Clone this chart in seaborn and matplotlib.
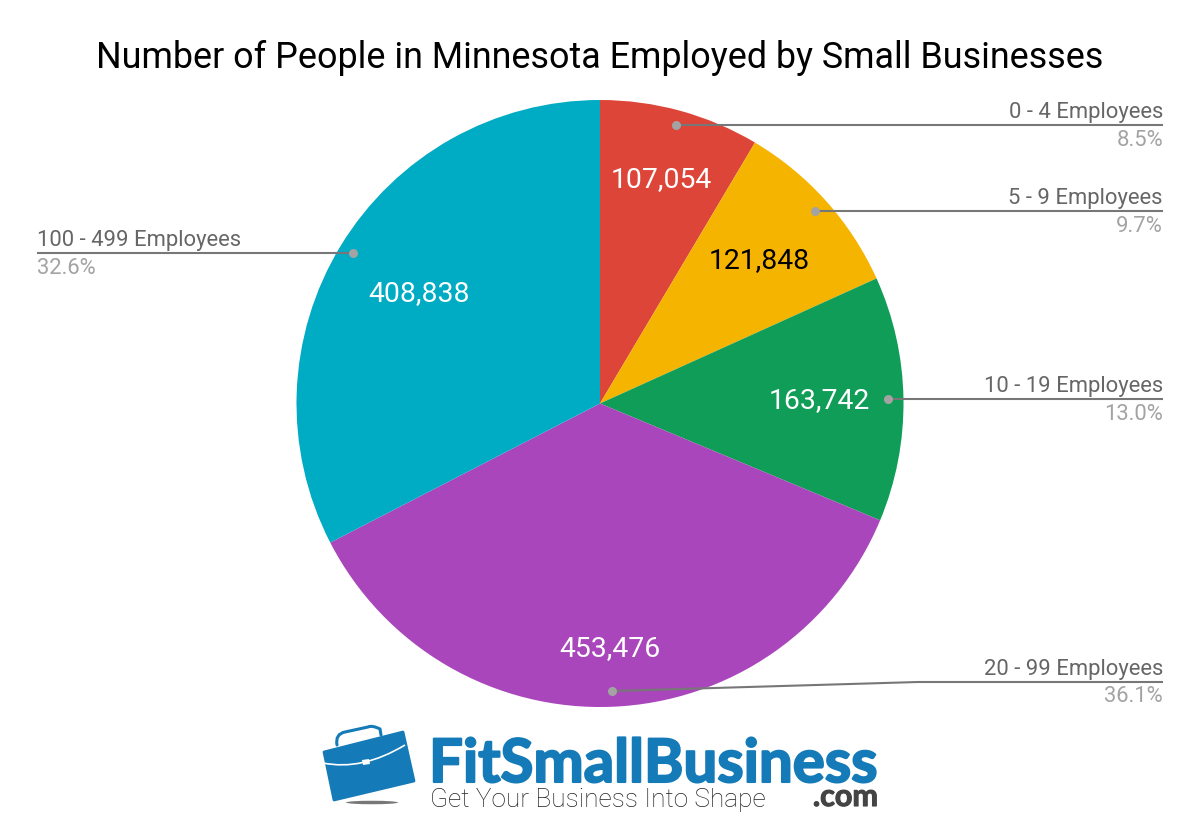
# Number of people in Minnesota employed by small businesses
import matplotlib
matplotlib.use('Agg')
import matplotlib.pyplot as plt
import matplotlib.patheffects as pe
from matplotlib.patches import Polygon, Ellipse, PathPatch
from matplotlib.path import Path
import seaborn as sns

categories = ['0 - 4 Employees', '5 - 9 Employees', '10 - 19 Employees',
              '20 - 99 Employees', '100 - 499 Employees']
employed = [107054, 121848, 163742, 453476, 408838]
shares = ['8.5%', '9.7%', '13.0%', '36.1%', '32.6%']
colors = ['#dd4539', '#f5b400', '#109d58', '#aa46bb', '#00abc4']

sns.set_theme(style='white')
plt.rcParams['font.family'] = ['Roboto', 'DejaVu Sans']

H = 836
fig = plt.figure(figsize=(12, 8.36), dpi=100)
ax = fig.add_axes([0, 0, 1, 1])


def y(p):
    # pixel row in the picture -> axes y
    return H - p


ax.pie(employed, colors=colors, startangle=90, counterclock=False,
       center=(600, y(403.5)), radius=303.5, frame=False,
       wedgeprops={'linewidth': 0})
ax.set_aspect('equal')
ax.set_xlim(0, 1200)
ax.set_ylim(0, H)
ax.axis('off')

ax.text(600, y(58), 'Number of People in Minnesota Employed by Small Businesses',
        ha='center', va='center', fontsize=25.85, color='black')

# values on the slices
value_pos = [(661.5, 180), (759, 261), (819.5, 401), (610, 649), (419, 294)]
value_col = ['white', 'black', 'white', 'white', 'white']
for v, (px, py), c in zip(employed, value_pos, value_col):
    ax.text(px, y(py), f'{v:,}', ha='center', va='center', fontsize=20.4, color=c)

# leader lines: dot, (optional elbow), end, label side
leaders = [
    [(676, 125), (1163, 125)],
    [(815, 211), (1163, 211)],
    [(888, 399), (1163, 399)],
    [(612, 691), (918, 682), (1163, 682)],
    [(353, 253), (37, 253)],
]
for cat, pct, pts in zip(categories, shares, leaders):
    xs = [p[0] for p in pts]
    ys = [y(p[1]) for p in pts]
    ax.plot(xs, ys, color='#777777', lw=1.5, solid_capstyle='butt', zorder=4)
    ax.plot(xs[0], ys[0], 'o', color='#a3a3a3', ms=6.5, mew=0, zorder=5)
    ex, ey = pts[-1]
    ha = 'right' if ex > 600 else 'left'
    ax.text(ex, y(ey - 2), cat, ha=ha, va='bottom', fontsize=15.8, color='#666666')
    ax.text(ex, y(ey + 4.5), pct, ha=ha, va='top', fontsize=15.8, color='#a3a3a3')

# logo
blue = '#147ab8'
ax.add_patch(Polygon([(324, y(752)), (403, y(732)), (414, y(781)), (334, y(800))],
                     closed=True, fc=blue, ec=blue, lw=2, joinstyle='round', zorder=3))
handle = Path([(337, y(745)), (335, y(734)), (345, y(732)),
               (368, y(727)), (372, y(725)), (380, y(729)), (381, y(735))],
              [Path.MOVETO, Path.CURVE3, Path.CURVE3, Path.LINETO,
               Path.CURVE3, Path.CURVE3, Path.LINETO])
ax.add_patch(PathPatch(handle, fc='none', ec=blue, lw=2.2, capstyle='round'))
strap = Path([(323, y(763)), (362, y(771)), (405, y(745))],
             [Path.MOVETO, Path.CURVE3, Path.CURVE3])
ax.add_patch(PathPatch(strap, fc='none', ec='white', lw=1.2, zorder=4))
ax.add_patch(Polygon([(362, y(760)), (369, y(759)), (370, y(764)), (363, y(765))],
                     closed=True, fc='white', ec='none', zorder=5))
ax.add_patch(Ellipse((372, y(802.5)), 52, 3.5, fc='#777777', ec='none'))
ax.text(429, y(765), 'FitSmallBusiness', ha='left', va='center', fontsize=43.2,
        fontweight='bold', family=['Lato', 'DejaVu Sans'], color=blue,
        path_effects=[pe.withStroke(linewidth=1.5, foreground=blue)])
ax.text(430, y(800), 'Get Your Business Into Shape', ha='left', va='center',
        fontsize=18.9, fontweight='light', family=['Roboto', 'DejaVu Sans'], color='#222222')
ax.text(878, y(797), '.com', ha='right', va='center', fontsize=22,
        fontweight='bold', family=['Lato', 'DejaVu Sans'], color='#444444',
        path_effects=[pe.withStroke(linewidth=0.8, foreground='#444444')])

fig.savefig('out.png', dpi=100, facecolor='white')
